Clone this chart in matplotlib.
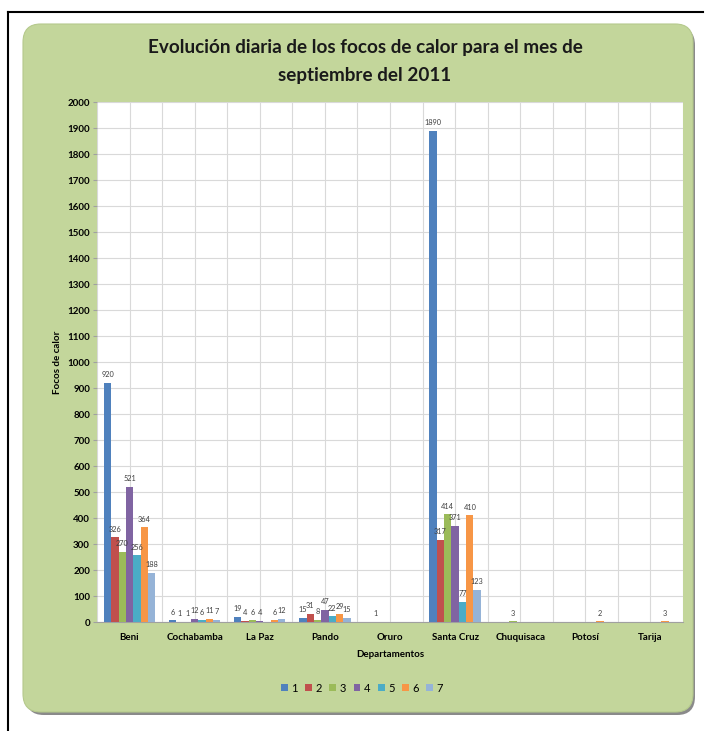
import numpy as np
import matplotlib
matplotlib.use("Agg")
from matplotlib import pyplot as plt
from matplotlib.patches import FancyBboxPatch
from matplotlib.lines import Line2D

departamentos = ["Beni", "Cochabamba", "La Paz", "Pando", "Oruro",
                 "Santa Cruz", "Chuquisaca", "Potosí", "Tarija"]
series_names = ["1", "2", "3", "4", "5", "6", "7"]
nan = np.nan
# rows = departamentos, columns = series 1..7
beni = [920, 326, 270, 521, 256, 364, 188]
cochabamba = [6, 1, 1, 12, 6, 11, 7]
la_paz = [19, 4, 6, 4, nan, 6, 12]
pando = [15, 31, 8, 47, 22, 29, 15]
oruro = [nan, 1, nan, nan, nan, nan, nan]
santa_cruz = [1890, 317, 414, 371, 77, 410, 123]
chuquisaca = [nan, nan, 3, nan, nan, nan, nan]
potosi = [nan, nan, nan, nan, nan, 2, nan]
tarija = [nan, nan, nan, nan, nan, 3, nan]

colors = ["#4F81BD", "#C0504D", "#9BBB59", "#8064A2",
          "#4BACC6", "#F79646", "#95B3D7"]

table = np.array([beni, cochabamba, la_paz, pando, oruro,
                  santa_cruz, chuquisaca, potosi, tarija], dtype=float)

plt.rcParams['font.family'] = ['Lato', 'DejaVu Sans']

fig = plt.figure(figsize=(7.07, 7.31), dpi=100)
W, H = 707, 731

# outer black frame (left and top edges)
fig.add_artist(Line2D([8 / W, 8 / W], [0, 1 - 12 / H], color="black", lw=1.5))
fig.add_artist(Line2D([8 / W, 703 / W], [1 - 12 / H, 1 - 12 / H], color="black", lw=1.5))

# green rounded panel with shadow
shadow = FancyBboxPatch((26 / W, 1 - 715 / H), (695 - 26) / W, (715 - 27) / H,
                        boxstyle="round,pad=0,rounding_size=0.025",
                        transform=fig.transFigure, facecolor="#8a8a8a",
                        edgecolor="none", zorder=0)
panel = FancyBboxPatch((23 / W, 1 - 712 / H), (693 - 23) / W, (712 - 24) / H,
                       boxstyle="round,pad=0,rounding_size=0.025",
                       transform=fig.transFigure, facecolor="#C3D69B",
                       edgecolor="#b5c98c", lw=0.8, zorder=0)
fig.add_artist(shadow)
fig.add_artist(panel)

ax = fig.add_axes([97 / W, 1 - 622 / H, (683 - 97) / W, (622 - 102) / H])
ax.set_facecolor("white")
ax.set_zorder(2)

n_series = len(series_names)
group_w = 0.79
bar_w = group_w / n_series
x = np.arange(len(departamentos)) + 0.5

for k in range(n_series):
    vals = table[:, k]
    pos = x - group_w / 2 + bar_w * (k + 0.5)
    ax.bar(pos, np.nan_to_num(vals), width=bar_w, color=colors[k],
           label=series_names[k], zorder=3)
    for px, v in zip(pos, vals):
        if not np.isnan(v):
            ax.text(px, v + 18, "%d" % v, ha="center", va="bottom",
                    fontsize=5.3, color="#404040", zorder=4)

ax.set_xlim(0, len(departamentos))
ax.set_ylim(0, 2000)
ax.set_yticks(np.arange(0, 2001, 100))
ax.set_xticks(x)
ax.set_xticklabels(departamentos, fontsize=7, fontweight="bold")
ax.set_xticks(np.arange(0, len(departamentos) + 0.01, 1.0), minor=True)
ax.tick_params(axis="x", which="both", length=0, pad=8)
ax.tick_params(axis="y", labelsize=7, length=3, color="#a0a0a0", pad=2)
for lab in ax.get_yticklabels():
    lab.set_fontweight("bold")
ax.grid(axis="y", color="#d9d9d9", lw=0.8, zorder=0)
ax.grid(axis="x", which="both", color="#d9d9d9", lw=0.8, zorder=0)
for side in ["top", "right", "left"]:
    ax.spines[side].set_visible(False)
ax.spines["bottom"].set_color("#a0a0a0")

ax.set_xlabel("Departamentos", fontsize=7, fontweight="bold", labelpad=6)
ax.set_ylabel("Focos de calor", fontsize=7, fontweight="bold", labelpad=4)

fig.text(365 / W, 1 - 47 / H, "Evolución diaria de los focos de calor para el mes de",
         ha="center", va="center", fontsize=13.6, fontweight="bold", color="#1a1a1a")
fig.text(365 / W, 1 - 75 / H, "septiembre del 2011",
         ha="center", va="center", fontsize=13.6, fontweight="bold", color="#1a1a1a")

fig.legend(loc="center", bbox_to_anchor=(362 / W, 1 - 688 / H), ncol=7,
           frameon=False, fontsize=8, handlelength=0.6, handleheight=0.6,
           handletextpad=0.3, columnspacing=0.7)

fig.savefig("out.png", dpi=100)
